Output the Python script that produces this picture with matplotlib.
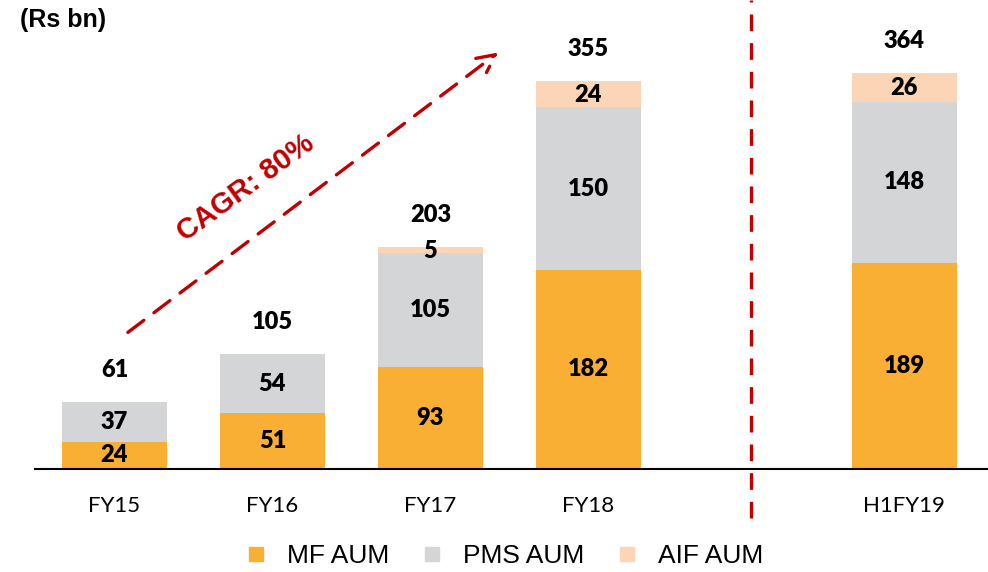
import matplotlib.pyplot as plt
from matplotlib.lines import Line2D

periods = ['FY15', 'FY16', 'FY17', 'FY18', 'H1FY19']
positions = [0, 1, 2, 3, 5]
mf_aum = [24, 51, 93, 182, 189]
pms_aum = [37, 54, 105, 150, 148]
aif_aum = [0, 0, 5, 24, 26]
totals = [61, 105, 203, 355, 364]
cagr_text = 'CAGR: 80%'

mf_color = '#F9AE34'
pms_color = '#D4D5D7'
aif_color = '#FBD5B5'
red = '#C00000'

fig = plt.figure(figsize=(9.88, 5.72), dpi=100)
ax = fig.add_axes([35 / 988, 1 - 468.5 / 572, 1 - 35 / 988, 468.5 / 572])
ax.set_xlim(-0.503, 5.53)
ax.set_ylim(0, 468.5 / 1.089)

width = 0.665
pms_bottom = mf_aum
aif_bottom = [m + p for m, p in zip(mf_aum, pms_aum)]
ax.bar(positions, mf_aum, width=width, color=mf_color)
ax.bar(positions, pms_aum, width=width, bottom=pms_bottom, color=pms_color)
ax.bar(positions, aif_aum, width=width, bottom=aif_bottom, color=aif_color)

num_font = dict(family='Lato', fontsize=17, fontweight='heavy', color='black', ha='center', va='center')
for x, m, p, a, t in zip(positions, mf_aum, pms_aum, aif_aum, totals):
    ax.text(x, m / 2, str(m), **num_font)
    ax.text(x, m + p / 2, str(p), **num_font)
    if a:
        ax.text(x, m + p + a / 2 - 1, str(a), **num_font)
    ax.annotate(str(t), (x, m + p + a), xytext=(0, 23), textcoords='offset points', **num_font)

for side in ['left', 'right', 'top']:
    ax.spines[side].set_visible(False)
ax.spines['bottom'].set_linewidth(1.5)
ax.set_yticks([])
ax.set_xticks(positions)
ax.set_xticklabels(periods, family='Lato', fontsize=16)
ax.tick_params(axis='x', length=0, pad=20)

# separator between full years and the half year
ax.plot([4.03, 4.03], [-45, 430], color=red, lw=2.4, linestyle=(0, (5, 3.6)), clip_on=False)

# growth arrow
ax.annotate('', xy=(2.43, 382), xytext=(0.085, 125),
            arrowprops=dict(arrowstyle='->', color=red, lw=2.4, linestyle=(0, (6, 3.8)),
                            mutation_scale=32, shrinkA=0, shrinkB=0))
ax.text(0.83, 258, cagr_text, rotation=36, rotation_mode='anchor', ha='center', va='center',
        family='Liberation Sans', fontsize=21, fontweight='bold', color=red)

fig.text(20 / 988, 1 - 20 / 572, '(Rs bn)', family='Liberation Sans', fontsize=18,
         fontweight='bold', ha='left', va='center')

handles = [
    Line2D([0], [0], marker='s', linestyle='', markersize=10, color=mf_color, label='MF AUM'),
    Line2D([0], [0], marker='s', linestyle='', markersize=10, color=pms_color, label='PMS AUM'),
    Line2D([0], [0], marker='s', linestyle='', markersize=10, color=aif_color, label='AIF AUM'),
]
fig.legend(handles=handles, loc='center', bbox_to_anchor=(503 / 988, 1 - 556 / 572), ncol=3,
           frameon=False, prop={'family': 'Liberation Sans', 'size': 19},
           handletextpad=0.65, columnspacing=1.15, handlelength=1.0)

fig.savefig('out.png', dpi=100)
